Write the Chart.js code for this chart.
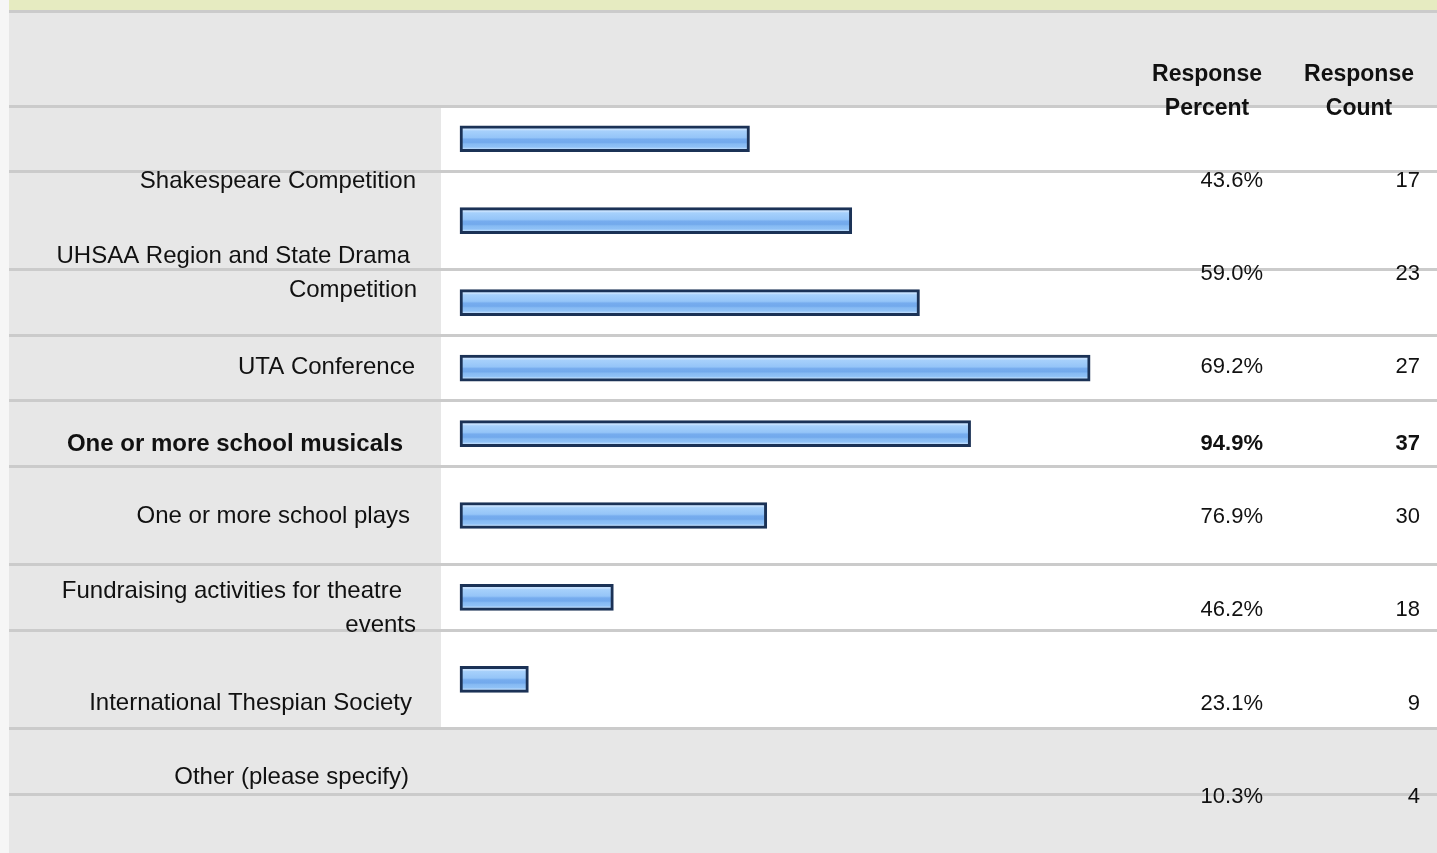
<!DOCTYPE html>
<html>
<head>
<meta charset="utf-8">
<title>Theatre activities</title>
<script src="https://cdn.jsdelivr.net/npm/chart.js@4.4.1/dist/chart.umd.min.js"></script>
<style>
  html, body { margin: 0; padding: 0; background: #ffffff; }
  #wrap { width: 1437px; height: 853px; position: relative; }
  canvas { display: block; }
</style>
</head>
<body>
<div id="wrap"><canvas id="chart" width="1437" height="853"></canvas></div>
<script>
// ---- data ----
const categories = [
  ['Shakespeare Competition'],
  ['UHSAA Region and State Drama', 'Competition'],
  ['UTA Conference'],
  ['One or more school musicals'],
  ['One or more school plays'],
  ['Fundraising activities for theatre', 'events'],
  ['International Thespian Society'],
  ['Other (please specify)']
];
const responsePercent = [43.6, 59.0, 69.2, 94.9, 76.9, 46.2, 23.1, 10.3];
const responseCount = [17, 23, 27, 37, 30, 18, 9, 4];
const columnHeaders = [['Response', 'Percent'], ['Response', 'Count']];

// ---- table layout ----
// Row heights of the answer table, in row units (two-line rows are taller).
const rowSpans = [1, 1.5, 1, 1, 1, 1.5, 1, 1.5, 1];
const headerSpan = 1.45;
const rowStarts = rowSpans.map((_, i) => rowSpans.slice(0, i).reduce((a, b) => a + b, 0));
const tableEnd = rowSpans.reduce((a, b) => a + b, 0);
const rowBoundaries = [-headerSpan, ...rowStarts, tableEnd];
const barSlots = responsePercent.map((_, i) => rowStarts[i] + rowSpans[i] / 2);

const W = 1437, H = 853;
const AREA = { left: 9, top: 11, bottom: 794 };
const BAR_ORIGIN_X = 460, PX_PER_PERCENT = 6.64;
const xMin = -(BAR_ORIGIN_X - AREA.left) / PX_PER_PERCENT;
const xMax = (W - BAR_ORIGIN_X) / PX_PER_PERCENT;
const BAR_THICK = 26;

// text placement (pixel centre lines of each table row's text)
const labelMidY = [179, 271, 365.3, 442, 514.5, 606.5, 701.3, 775.3];
const valueMidY = [179.4, 272.5, 365.5, 441.7, 515, 608, 702, 794.7];
const labelRight = [[416], [410, 417], [415], [403], [410], [402, 416], [412], [409]];
const LINE_GAP = 34;
const PCT_RIGHT = 1263, COUNT_RIGHT = 1420;
const HEAD_CX = [1207, 1359];
const HEAD_MID = [73, 107];

const FONT = '"Liberation Sans", Arial, Helvetica, sans-serif';
const COLORS = {
  page: '#e7e7e7', margin: '#f6f6f6', band: '#e6ebc1', cell: '#ffffff',
  rule: '#cbcbcb', text: '#111111', barEdge: '#1b3256'
};

const maxCount = Math.max(...responseCount);

function barGradient(ctx) {
  const chart = ctx.chart;
  const yScale = chart.scales && chart.scales.y;
  if (!yScale || ctx.type !== 'data') return '#90c2f6';
  const yc = yScale.getPixelForValue(barSlots[ctx.dataIndex]);
  if (!Number.isFinite(yc)) return '#90c2f6';
  const top = yc - BAR_THICK / 2;
  const g = chart.ctx.createLinearGradient(0, top, 0, top + BAR_THICK);
  g.addColorStop(0.00, '#c9e3ff');
  g.addColorStop(0.15, '#c4e0fe');
  g.addColorStop(0.20, '#a6d0fb');
  g.addColorStop(0.45, '#95c5f8');
  g.addColorStop(0.52, '#76acee');
  g.addColorStop(0.64, '#72a9ec');
  g.addColorStop(0.70, '#86baf3');
  g.addColorStop(0.82, '#8fc1f6');
  g.addColorStop(0.88, '#b7d9fc');
  g.addColorStop(1.00, '#b7d9fc');
  return g;
}

// page backgrounds: side margin, title band, header and label column, answer cells
const tableBackground = {
  id: 'tableBackground',
  beforeDraw(chart) {
    const c = chart.ctx, y = chart.scales.y;
    c.save();
    c.fillStyle = COLORS.margin;
    c.fillRect(0, 0, W, H);
    c.fillStyle = COLORS.page;
    c.fillRect(AREA.left, 0, W - AREA.left, H);
    c.fillStyle = COLORS.band;
    c.fillRect(AREA.left, 0, W - AREA.left, AREA.top);
    const cellTop = y.getPixelForValue(0);
    const cellBottom = y.getPixelForValue(rowStarts[rowStarts.length - 1]);
    c.fillStyle = COLORS.cell;
    c.fillRect(441, cellTop, W - 441, cellBottom - cellTop);
    c.restore();
  }
};

// column headers, answer labels, percentages and counts
const tableText = {
  id: 'tableText',
  afterDraw(chart) {
    const c = chart.ctx;
    c.save();
    c.fillStyle = COLORS.text;
    c.textBaseline = 'alphabetic';

    c.font = 'bold 23px ' + FONT;
    c.textAlign = 'center';
    columnHeaders.forEach((lines, col) => {
      lines.forEach((t, k) => c.fillText(t, HEAD_CX[col], HEAD_MID[k] + 23 * 0.358));
    });

    categories.forEach((lines, i) => {
      const bold = responseCount[i] === maxCount;
      c.font = (bold ? 'bold ' : '') + '24px ' + FONT;
      c.textAlign = 'right';
      const first = labelMidY[i] - (lines.length - 1) * LINE_GAP / 2;
      lines.forEach((t, k) => {
        c.fillText(t, labelRight[i][k], first + k * LINE_GAP + 24 * 0.358);
      });
      c.font = (bold ? 'bold ' : '') + '22px ' + FONT;
      const base = valueMidY[i] + 22 * 0.358;
      c.fillText(responsePercent[i].toFixed(1) + '%', PCT_RIGHT, base);
      c.fillText(String(responseCount[i]), COUNT_RIGHT, base);
    });
    c.restore();
  }
};

new Chart(document.getElementById('chart'), {
  type: 'bar',
  data: {
    datasets: [{
      data: responsePercent.map((v, i) => ({ x: v, y: barSlots[i] })),
      backgroundColor: barGradient,
      borderColor: COLORS.barEdge,
      borderWidth: 3,
      borderSkipped: false,
      barThickness: BAR_THICK
    }]
  },
  options: {
    indexAxis: 'y',
    responsive: false,
    animation: false,
    devicePixelRatio: 1,
    layout: { padding: { left: AREA.left, top: AREA.top, right: 0, bottom: H - AREA.bottom } },
    plugins: { legend: { display: false }, tooltip: { enabled: false } },
    scales: {
      x: { type: 'linear', display: false, min: xMin, max: xMax },
      y: {
        type: 'linear', reverse: true, offset: false,
        min: -headerSpan, max: tableEnd,
        afterBuildTicks(scale) { scale.ticks = rowBoundaries.map(v => ({ value: v })); },
        grid: { offset: false, color: COLORS.rule, lineWidth: 3, drawTicks: false },
        border: { display: false },
        ticks: { display: false }
      }
    }
  },
  plugins: [tableBackground, tableText]
});
</script>
</body>
</html>
